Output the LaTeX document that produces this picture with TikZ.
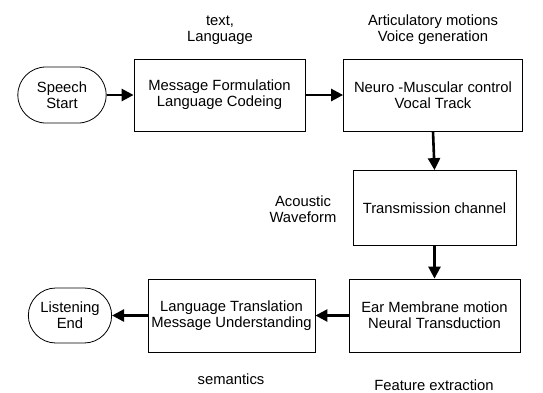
\documentclass[tikz,border=0pt]{standalone}
\usepackage{fontspec}
\setmainfont{Liberation Sans}
\usetikzlibrary{arrows.meta,shapes.misc}
\begin{document}
\begin{tikzpicture}[
  x=1pt, y=1pt,
  stagebox/.style={rectangle, draw, line width=0.8pt, align=center, font=\fontsize{14.8}{16}\selectfont},
  termbox/.style={rounded rectangle, draw, line width=0.8pt, align=center, font=\fontsize{14.8}{16}\selectfont},
  note/.style={align=center, font=\fontsize{14.8}{16}\selectfont},
  arrow/.style={-{Triangle[length=12pt,width=12pt]}, line width=2.6pt}
]
  \useasboundingbox (0,0) rectangle (543,-392);

  % Speaker side (top row)
  \node[termbox, minimum width=95pt, minimum height=56pt] (start) at (62,-95) {Speech\\Start};
  \node[stagebox, minimum width=171pt, minimum height=72pt] (msg) at (219.5,-95) {Message Formulation\\Language Codeing};
  \node[stagebox, minimum width=179pt, minimum height=72pt] (neuro) at (433,-95) {Neuro -Muscular control\\Vocal Track};

  % Channel
  \node[stagebox, minimum width=163pt, minimum height=75pt] (trans) at (434.5,-208) {Transmission channel};

  % Listener side (bottom row)
  \node[stagebox, minimum width=171pt, minimum height=73pt] (ear) at (434.5,-315.5) {Ear Membrane motion\\Neural Transduction};
  \node[stagebox, minimum width=163pt, minimum height=73pt] (lang) at (231.5,-315.5) {Language Translation\\Message Understanding};
  \node[termbox, minimum width=90pt, minimum height=55pt] (end) at (70,-315.5) {Listening\\End};

  % Side notes
  \node[note] (textnote) at (220,-30) {text,\\Language};
  \node[note] (artnote) at (433,-30) {Articulatory motions\\Voice generation};
  \node[note] (acnote) at (303,-209) {Acoustic\\Waveform};
  \node[note] (semnote) at (231,-379) {semantics};
  \node[note] (featnote) at (434,-385) {Feature extraction};

  % Arrows
  \draw[arrow] (start.east) -- (msg.west);
  \draw[arrow] (msg.east) -- (neuro.west);
  \draw[arrow] (neuro.south) -- (trans.north);
  \draw[arrow] (trans.south) -- (ear.north);
  \draw[arrow] (ear.west) -- (lang.east);
  \draw[arrow] (lang.west) -- (end.east);
\end{tikzpicture}
\end{document}
